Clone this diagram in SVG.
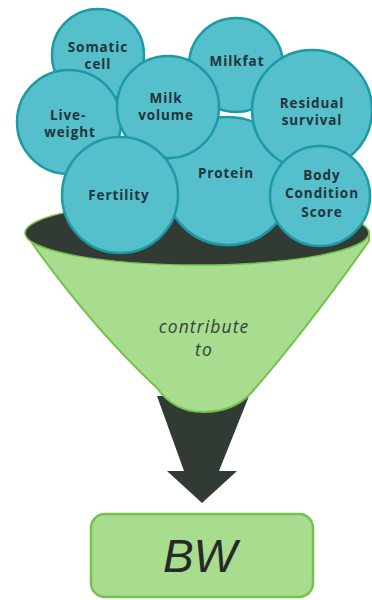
<svg xmlns="http://www.w3.org/2000/svg" width="372" height="600" viewBox="0 0 372 600">
<style>
.c{fill:#55bfcb;stroke:#1d9aa6;stroke-width:2.5}
.t{font-family:"Open Sans","DejaVu Sans",sans-serif;font-weight:700;font-size:13.5px;letter-spacing:0.9px;fill:#23343a;text-anchor:middle}
.it{font-family:"Open Sans","DejaVu Sans",sans-serif;font-style:italic;font-size:17.5px;letter-spacing:1.1px;fill:#34443a;text-anchor:middle}
</style>
<rect width="372" height="600" fill="#ffffff"/>
<g id="connectors">
<polygon id="arrow" points="157,396 249,396 219,471 237,471 202,503 167,471 184,471" fill="#323b33"/>
</g>
<g id="funnel">
<path d="M26,234 L37,250 Q95,330 157,388 Q174,412 203,412 Q234,412 252,392 Q306,330 369,241 L369,232 Z" fill="#a8dc8e" stroke="#74c14e" stroke-width="2"/>
<ellipse cx="197" cy="233" rx="172" ry="32" fill="#323b33" stroke="#74c14e" stroke-width="1.5"/>
<text class="it" x="204" y="333">contribute</text>
<text class="it" x="204" y="356">to</text>
</g>
<g id="somatic"><circle class="c" cx="98" cy="55" r="46"/><text class="t" x="98" y="52">Somatic</text><text class="t" x="98" y="69">cell</text></g>
<g id="protein"><circle class="c" cx="228" cy="181" r="64"/><text class="t" x="226" y="178">Protein</text></g>
<g id="milkfat"><circle class="c" cx="236" cy="65" r="47"/><text class="t" x="237" y="66">Milkfat</text></g>
<g id="liveweight"><circle class="c" cx="69" cy="122" r="52"/><text class="t" x="68" y="120">Live-</text><text class="t" x="70" y="137">weight</text></g>
<g id="milkvolume"><circle class="c" cx="168" cy="107" r="51"/><text class="t" x="166" y="103">Milk</text><text class="t" x="166" y="120">volume</text></g>
<g id="residual"><circle class="c" cx="312" cy="110" r="60"/><text class="t" x="312" y="108">Residual</text><text class="t" x="312" y="125">survival</text></g>
<g id="fertility"><circle class="c" cx="120" cy="195" r="58"/><text class="t" x="119" y="200">Fertility</text></g>
<g id="bcs"><circle class="c" cx="320" cy="196" r="50"/><text class="t" x="322" y="180">Body</text><text class="t" x="322" y="198">Condition</text><text class="t" x="322" y="217">Score</text></g>
<g id="bw">
<rect x="91" y="514" width="222" height="83" rx="14" fill="#a8dc8e" stroke="#74c14e" stroke-width="2.5"/>
<text x="200" y="572" font-family="Liberation Sans, Arial, sans-serif" font-style="italic" font-size="46" fill="#262a26" text-anchor="middle">BW</text>
</g>
</svg>
